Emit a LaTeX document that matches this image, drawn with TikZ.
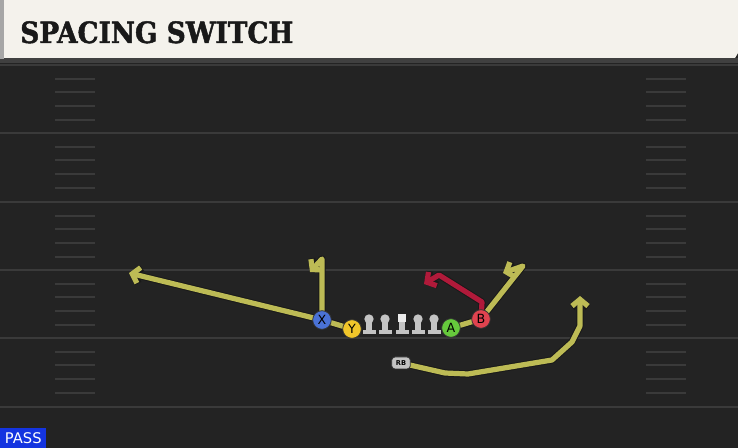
\documentclass[tikz,border=0pt]{standalone}
\usepackage{fontspec}
\newfontfamily\titlefont{DejaVu Serif Condensed}[BoldFeatures={FakeBold=1.6}]
\newfontfamily\labelfont{DejaVu Sans}
\usepackage{tikz}
\usetikzlibrary{positioning,arrows.meta}
\definecolor{fieldgrey}{HTML}{232323}
\definecolor{yardgrey}{HTML}{3A3A3A}
\definecolor{cream}{HTML}{F4F2EC}
\definecolor{routeyellow}{HTML}{BDBB55}
\definecolor{blockred}{HTML}{B01A3A}
\definecolor{xblue}{HTML}{4A72D6}
\definecolor{yyellow}{HTML}{F1C62A}
\definecolor{agreen}{HTML}{66C93C}
\definecolor{bred}{HTML}{E0434F}
\definecolor{linegrey}{HTML}{C4C4C4}
\definecolor{passblue}{HTML}{1434E0}
\pgfdeclarelayer{field}
\pgfdeclarelayer{routes}
\pgfsetlayers{field,routes,main}
\tikzset{
  yard/.style={line width=1.5pt,draw=yardgrey},
  hash/.style={line width=1.4pt,draw=yardgrey},
  route/.style={line width=3.9pt,draw=routeyellow,line join=round,
    -{Straight Barb[length=5pt,width=12pt]},
    preaction={draw=black!90,line width=5.4pt,line join=round}},
  block/.style={route,draw=blockred},
  player/.style={shape=circle,minimum size=14pt,inner sep=0pt,draw=black!80,
    line width=0.6pt,text=black,font=\labelfont\fontsize{9.5}{9.5}\selectfont},
  lineman/.style={shape=circle,minimum size=7pt,inner sep=0pt,fill=linegrey},
  center/.style={shape=rectangle,minimum size=6.5pt,inner sep=0pt,fill=white!92!black},
  back/.style={shape=rectangle,rounded corners=2.5pt,minimum width=14pt,minimum height=9pt,
    inner sep=0pt,fill=linegrey,draw=black!80,line width=0.6pt,
    font=\labelfont\bfseries\fontsize{5}{5}\selectfont}
}
\begin{document}
\begin{tikzpicture}[x=0.75pt,y=-0.75pt]
  \useasboundingbox (0,0) rectangle (738,448);
  \begin{pgfonlayer}{field}
    \fill[fieldgrey] (0,0) rectangle (738,448);
    \fill[black!75] (0,58) rectangle (738,63);
    \fill[black!35] (0,0) rectangle (4,59);
    \fill[cream] (4,0) -- (738,0) -- (738,53) -- (735,58) -- (4,58) -- cycle;
    \draw[yard] (0,65) -- (738,65);
    \foreach \y in {133,202,270,338,407}
      \draw[yard] (0,\y) -- (738,\y);
    \foreach \y in {65,133,202,270,338} {
      \foreach \k [evaluate=\k as \h using \y+13.7*\k] in {1,...,4} {
        \draw[hash] (55,\h) -- (95,\h);
        \draw[hash] (646,\h) -- (686,\h);
      }
    }
  \end{pgfonlayer}

  \node[anchor=base west,inner sep=0pt,text=black!90,
    font=\titlefont\bfseries\fontsize{22}{22}\selectfont] (title) at (20,43) {SPACING SWITCH};
  \node[anchor=south west,fill=passblue,text=white,inner sep=0pt,
    minimum width=34.5pt,minimum height=15pt,
    font=\labelfont\fontsize{11}{11}\selectfont] (pass) at (0,448) {PASS};

  \foreach \n/\x in {l1/369,l2/385,l4/418,l5/434} {
    \node[lineman] (\n) at (\x,319) {};
    \fill[linegrey] (\x-3,320) rectangle (\x+3,331);
    \fill[linegrey] (\x-6.5,330) rectangle (\x+6.5,334.5);
  }
  \node[center] (c) at (402,318) {};
  \fill[linegrey] (399,322) rectangle (405,331);
  \fill[linegrey] (395.5,330) rectangle (408.5,334.5);

  \node[player,fill=xblue] (X) at (322,320) {X};
  \node[player,fill=yyellow] (Y) at (352,329) {Y};
  \node[player,fill=agreen] (A) at (451,328) {A};
  \node[player,fill=bred] (B) at (481,319) {B};
  \node[back] (RB) at (401,363) {RB};

  \coordinate (yEnd) at (129,273);
  \coordinate (xTop) at (322,259);
  \coordinate (xEnd) at (310,272);
  \coordinate (aTop) at (523,266);
  \coordinate (aEnd) at (503,273);
  \coordinate (bUp) at (482,302);
  \coordinate (bTop) at (439,275);
  \coordinate (bEnd) at (424,284);
  \coordinate (r1) at (445,373);
  \coordinate (r2) at (468,374);
  \coordinate (r3) at (552,360);
  \coordinate (r4) at (572,342);
  \coordinate (r5) at (580,326);
  \coordinate (rEnd) at (580,296);

  \begin{pgfonlayer}{routes}
    \draw[route] (Y.center) -- (X.center) -- (yEnd);
    \draw[route] (X.center) -- (xTop) -- (xEnd);
    \draw[route] (A.center) -- (B.center) -- (aTop) -- (aEnd);
    \draw[block] (B.center) -- (bUp) -- (bTop) -- (bEnd);
    \draw[route] (RB.center) -- (r1) -- (r2) -- (r3) -- (r4) -- (r5) -- (rEnd);
  \end{pgfonlayer}
\end{tikzpicture}
\end{document}
